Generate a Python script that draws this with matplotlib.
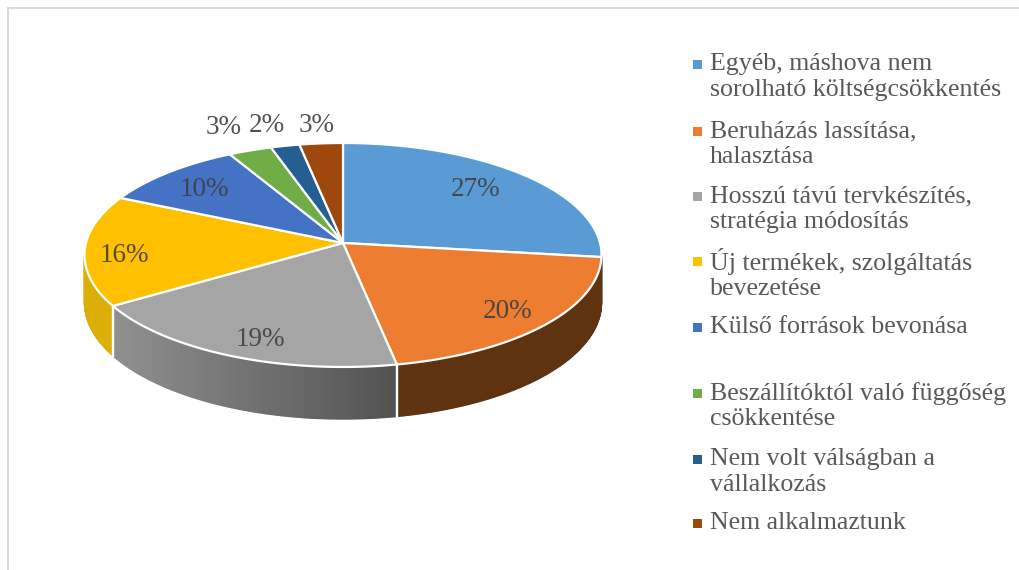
import numpy as np
import matplotlib
matplotlib.use("Agg")
import matplotlib.pyplot as plt
from matplotlib.colors import to_rgb
from matplotlib.patches import Polygon, Rectangle

# ---- data ----
categories = [
    "Egyéb, máshova nem\nsorolható költségcsökkentés",
    "Beruházás lassítása,\nhalasztása",
    "Hosszú távú tervkészítés,\nstratégia módosítás",
    "Új termékek, szolgáltatás\nbevezetése",
    "Külső források bevonása",
    "Beszállítóktól való függőség\ncsökkentése",
    "Nem volt válságban a\nvállalkozás",
    "Nem alkalmaztunk",
]
shares = [27, 20, 19, 16, 10, 3, 2, 3]

# ---- style / layout ----
colors = ["#5B9BD5", "#ED7D31", "#A5A5A5", "#FFC000", "#4472C4", "#70AD47", "#255E91", "#9E480E"]
side_from = ["#3f6c96", "#5f3210", "#909090", "#dcae08", "#30508c", "#4f7a32", "#1a4266", "#6f330a"]
side_to = ["#3f6c96", "#5f3210", "#525252", "#dcae08", "#30508c", "#4f7a32", "#1a4266", "#6f330a"]
W, H = 1020, 570
CX, CY, R = 343, 243, 257
K, A = 0.107, 110.7            # perspective of the tilted disc
label_xy = [(476, 190), (508, 312), (260, 339), (124, 255), (204, 190), (224, 128), (267, 126), (317, 125)]
legend_y = [77, 144, 209, 274, 327, 406, 472, 523]
TXT = "#595959"


def proj(deg, drop=False):
    t = np.radians(np.asarray(deg, float))
    s, c = np.sin(t), np.cos(t)
    den = 1 + K * c
    x = CX + R * s / den
    y = CY - A * c / den
    if drop:
        y = y + 47 - 5 * c
    return x, y


fig = plt.figure(figsize=(W / 100, H / 100), dpi=100, facecolor="white")
ax = fig.add_axes([0, 0, 1, 1])
ax.set_xlim(0, W)
ax.set_ylim(H, 0)
ax.axis("off")

cum = np.cumsum([0] + shares) / sum(shares) * 360
vis0 = np.degrees(np.arccos(-K))
vis1 = 360 - vis0

# side wall
for i in range(len(shares)):
    a0, a1 = max(cum[i], vis0), min(cum[i + 1], vis1)
    if a1 <= a0:
        continue
    n = max(int((a1 - a0) * 2), 2)
    edges = np.linspace(a0, a1, n + 1)
    c_left, c_right = np.array(to_rgb(side_from[i])), np.array(to_rgb(side_to[i]))
    xl, _ = proj(a1)
    xr, _ = proj(a0)
    for j in range(n):
        pair = edges[j:j + 2]
        tx, ty = proj(pair)
        bx, by = proj(pair, True)
        f = (tx.mean() - xl) / (xr - xl)
        col = c_left * (1 - f) + c_right * f
        ax.add_patch(Polygon(np.column_stack([np.r_[tx, bx[::-1]], np.r_[ty, by[::-1]]]),
                             closed=True, facecolor=col, edgecolor=col, linewidth=1.0, zorder=2))
    # white seams only between panels that are clearly on the front of the wall
    for a in (cum[i], cum[i + 1]):
        if vis0 + 5 < a < vis1 - 5:
            tx, ty = proj(a)
            bx, by = proj(a, True)
            ax.plot([tx, bx], [ty, by], color="white", lw=1.6, zorder=3)

# top surface
for i in range(len(shares)):
    arc = np.linspace(cum[i], cum[i + 1], 120)
    x, y = proj(arc)
    ax.add_patch(Polygon(np.column_stack([np.r_[CX, x], np.r_[CY, y]]), closed=True,
                         facecolor=colors[i], edgecolor="white", linewidth=1.6,
                         joinstyle="round", zorder=4))

# percentage labels
for (x, y), v in zip(label_xy, shares):
    ax.text(x, y, f"{v}%", ha="center", va="center", fontsize=19.5, color="#404040",
            family="Liberation Serif", alpha=0.9, zorder=6)

# legend
for y, name, col in zip(legend_y, categories, colors):
    first = y - 13 if "\n" in name else y
    ax.add_patch(Rectangle((693, first - 4), 9, 9, facecolor=col, edgecolor="none", zorder=6))
    ax.text(710, y, name, ha="left", va="center", fontsize=18.6, color=TXT,
            family="Liberation Serif", linespacing=1.2, zorder=6)

# thin frame of the pasted picture
ax.plot([8, W], [8, 8], color="#d4d4d4", lw=1.2, zorder=1)
ax.plot([8, 8], [8, H], color="#d4d4d4", lw=1.2, zorder=1)

fig.savefig("out.png", dpi=100, facecolor="white")
